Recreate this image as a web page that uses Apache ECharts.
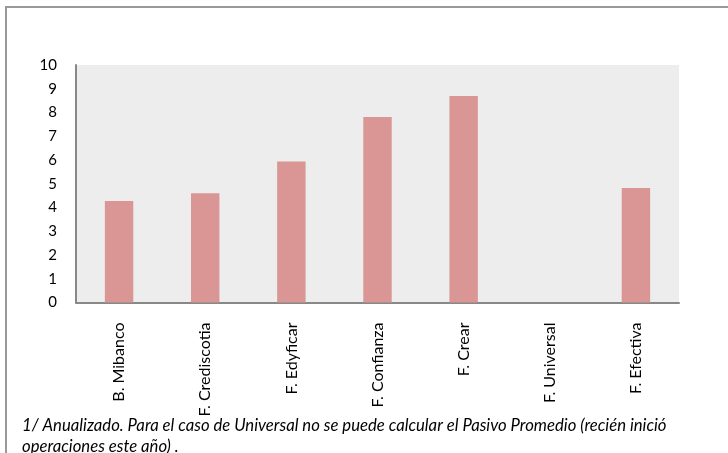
<!DOCTYPE html>
<html>
<head>
<meta charset="utf-8">
<script src="https://cdn.jsdelivr.net/npm/echarts@6/dist/echarts.min.js"></script>
<style>html,body{margin:0;padding:0;background:#fff}#c{width:728px;height:453px}</style>
</head>
<body>
<div id="c"></div>
<script>
const categories = ['B. Mibanco','F. Crediscotia','F. Edyficar','F. Confianza','F. Crear','F. Universal','F. Efectiva'];
const values = [4.27, 4.60, 5.94, 7.81, 8.69, null, 4.82];
const yTicks = [0,1,2,3,4,5,6,7,8,9,10];
const footnoteLines = ['1/ Anualizado. Para el caso de Universal no se puede calcular el Pasivo Promedio (recién inició', 'operaciones este año) .'];

const chart = echarts.init(document.getElementById('c'), null, {renderer:'canvas'});
chart.setOption({
  animation:false,
  backgroundColor:'#fff',
  grid:{left:76,right:49,top:65,bottom:150.5,show:true,backgroundColor:'#ededed',borderWidth:0},
  xAxis:{type:'category',data:categories,
    axisLine:{show:true,lineStyle:{color:'#888',width:2}},
    axisTick:{show:false},
    axisLabel:{rotate:90,margin:20,fontSize:16,fontFamily:'Lato',color:'#000',interval:0}},
  yAxis:{type:'value',min:yTicks[0],max:yTicks[yTicks.length-1],interval:1,
    axisLine:{show:true,lineStyle:{color:'#888',width:2}},
    axisTick:{show:false},
    splitLine:{show:false},
    axisLabel:{margin:19,fontSize:15,fontFamily:'Lato',color:'#000'}},
  series:[{type:'bar',data:values,barWidth:'33%',itemStyle:{color:'#d99694'}}],
  graphic:[
    {type:'rect',shape:{x:6,y:7,width:800,height:600},style:{fill:null,stroke:'#999',lineWidth:2},silent:true,z:-1},
    {type:'text',left:22,top:417,style:{text:footnoteLines[0],font:'italic 16.7px Lato',fill:'#000'}},
    {type:'text',left:22,top:438,style:{text:footnoteLines[1],font:'italic 16.7px Lato',fill:'#000'}}
  ]
});
</script>
</body>
</html>
